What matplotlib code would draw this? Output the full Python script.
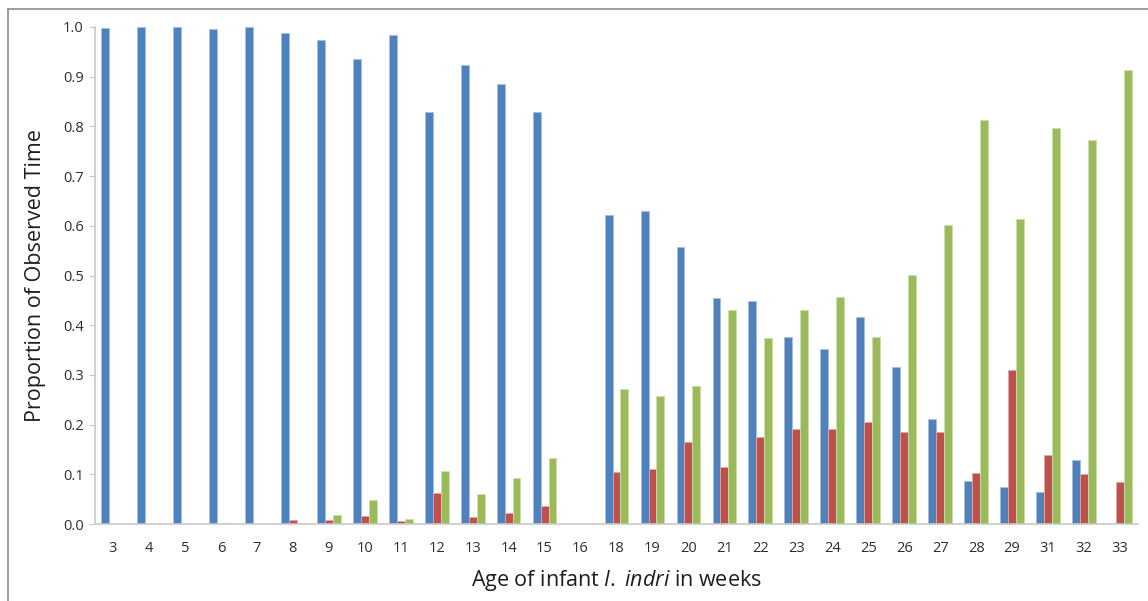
import matplotlib
matplotlib.use("Agg")
import matplotlib.pyplot as plt
import numpy as np
from matplotlib.lines import Line2D

plt.rcParams['font.family'] = ['Open Sans', 'DejaVu Sans']
plt.rcParams['mathtext.fontset'] = 'custom'
plt.rcParams['mathtext.it'] = 'Open Sans:italic'
plt.rcParams['mathtext.rm'] = 'Open Sans'

weeks = [3, 4, 5, 6, 7, 8, 9, 10, 11, 12, 13, 14, 15, 16,
         18, 19, 20, 21, 22, 23, 24, 25, 26, 27, 28, 29, 31, 32, 33]

blue_vals = [0.998, 1.0, 1.0, 0.995, 1.0, 0.988, 0.973, 0.935, 0.983, 0.829,
             0.923, 0.885, 0.829, 0.0,
             0.622, 0.630, 0.558, 0.455, 0.449, 0.376, 0.352, 0.417, 0.315,
             0.212, 0.086, 0.075, 0.065, 0.128, 0.0]

red_vals = [0.0, 0.0, 0.0, 0.0, 0.0, 0.008, 0.008, 0.016, 0.006, 0.063,
            0.014, 0.022, 0.037, 0.0,
            0.105, 0.111, 0.164, 0.114, 0.176, 0.191, 0.191, 0.206, 0.185,
            0.185, 0.102, 0.310, 0.138, 0.101, 0.084]

green_vals = [0.0, 0.0, 0.0, 0.002, 0.0, 0.003, 0.019, 0.049, 0.010, 0.106,
              0.061, 0.093, 0.132, 0.0,
              0.271, 0.257, 0.277, 0.430, 0.374, 0.431, 0.457, 0.376, 0.501,
              0.601, 0.812, 0.613, 0.797, 0.772, 0.914]

fig = plt.figure(figsize=(11.48, 6.01), dpi=100)
ax = fig.add_axes([95 / 1148, 1 - 524 / 601, 1043 / 1148, 497 / 601])

x = np.arange(len(weeks))
w = 0.22
ax.bar(x - w, blue_vals, w, color='#4F81BD', edgecolor='#A7C0DE', linewidth=0.6)
ax.bar(x, red_vals, w, color='#C0504D', edgecolor='#E0A8A6', linewidth=0.6)
ax.bar(x + w, green_vals, w, color='#9BBB59', edgecolor='#CDDDAC', linewidth=0.6)

ax.set_xlim(-0.5, len(weeks) - 0.5)
ax.set_ylim(0, 1.0)
ax.set_yticks(np.arange(0, 1.01, 0.1))
ax.set_yticklabels([f'{v:.1f}' for v in np.arange(0, 1.01, 0.1)])
ax.set_xticks(x)
ax.set_xticklabels([str(wk) for wk in weeks])

for s in ['top', 'right']:
    ax.spines[s].set_visible(False)
for s in ['left', 'bottom']:
    ax.spines[s].set_color('#C8C8C8')
    ax.spines[s].set_linewidth(1.2)

ax.tick_params(axis='y', length=4, color='#C8C8C8', labelsize=10.5,
               labelcolor='#2E2E2E', pad=4)
ax.tick_params(axis='x', length=0, labelsize=10.5, labelcolor='#2E2E2E', pad=12)

ax.set_ylabel('Proportion of Observed Time', fontsize=15.5, color='#1E1E1E', labelpad=12)
ax.set_xlabel('Age of infant $\\mathit{I.\\;indri}$ in weeks', fontsize=15.5,
              color='#1E1E1E', labelpad=9)

# outer chart border
fig.add_artist(Line2D([8 / 1148, 1.0], [1 - 9 / 601, 1 - 9 / 601],
                      transform=fig.transFigure, color='#8C8C8C', lw=1.2))
fig.add_artist(Line2D([8 / 1148, 8 / 1148], [0, 1 - 9 / 601],
                      transform=fig.transFigure, color='#8C8C8C', lw=1.2))

fig.savefig('out.png', dpi=100)
